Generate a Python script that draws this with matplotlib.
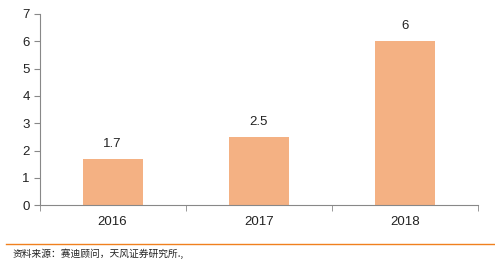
import matplotlib
matplotlib.use("Agg")
import matplotlib.pyplot as plt
import numpy as np

years = ["2016", "2017", "2018"]
values = [1.7, 2.5, 6]
value_labels = ["1.7", "2.5", "6"]
source_text = "资料来源：赛迪顾问，天风证券研究所.,"

plt.rcParams["font.family"] = ["Noto Sans CJK SC", "DejaVu Sans"]
num_font = ["Liberation Sans", "DejaVu Sans"]

fig = plt.figure(figsize=(4.95, 2.67), dpi=100)
ax = fig.add_axes([0.0798, 0.231, 0.886, 0.7166])

x = np.arange(len(years))
ax.bar(x, values, width=0.41, color="#F4B183", zorder=2)
for xi, v, lab in zip(x, values, value_labels):
    ax.text(xi, v + 0.33, lab, ha="center", va="bottom", fontsize=9.5,
            family=num_font, color="#222222")

ax.set_xlim(-0.5, 2.5)
ax.set_ylim(0, 7)
ax.set_yticks(range(0, 8))
ax.set_xticks(x)
ax.set_xticklabels(years)
ax.set_xticks([-0.5, 0.5, 1.5, 2.5], minor=True)
ax.tick_params(axis="x", which="major", length=0, pad=8, labelsize=9.5)
ax.tick_params(axis="x", which="minor", length=4, color="#888888", direction="out")
ax.tick_params(axis="y", length=4, color="#888888", labelsize=9.5, pad=3)
for lab in ax.get_xticklabels() + ax.get_yticklabels():
    lab.set_family(num_font)
    lab.set_color("#222222")

for s in ["top", "right"]:
    ax.spines[s].set_visible(False)
ax.spines["left"].set_color("#888888")
ax.spines["bottom"].set_color("#888888")

# orange separator line and source note
fig.add_artist(plt.Line2D([6 / 495, 1.0], [1 - 244 / 267, 1 - 244 / 267],
                          color="#F0801E", linewidth=1.0))
fig.text(13 / 495, 1 - 254 / 267, source_text, fontsize=7, va="center",
         ha="left", color="#222222")

fig.savefig("out.png", dpi=100)
